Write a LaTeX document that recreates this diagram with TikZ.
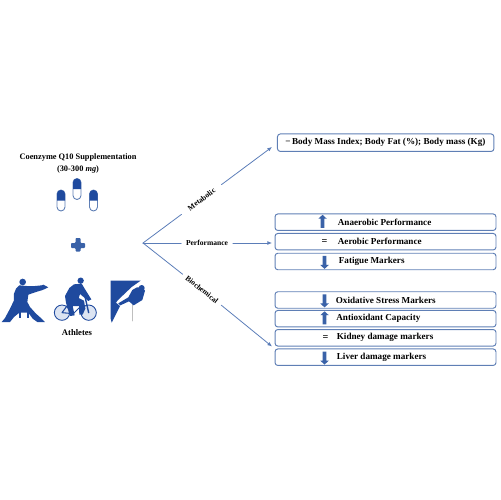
\documentclass[tikz,border=0pt]{standalone}
\usepackage{fontspec}
\setmainfont{Liberation Serif}
\usetikzlibrary{arrows.meta,shapes.arrows}

\definecolor{linkblue}{HTML}{5B7DB8}
\definecolor{boxblue}{HTML}{5F7FB5}
\definecolor{markblue}{HTML}{3A62A8}
\definecolor{iconblue}{HTML}{1F4A9E}
\definecolor{wheelfill}{HTML}{DCE4F2}

\begin{document}
\begin{tikzpicture}[
    x=0.02cm, y=-0.02cm,
    font=\fontsize{5.2}{6}\selectfont\bfseries,
    >=Latex,
    line cap=round,
    line join=round,
    resultbox/.style={draw=boxblue, line width=0.55pt, rounded corners=1.6pt, minimum width=4.42cm, minimum height=0.33cm, inner sep=0pt},
    boxtext/.style={anchor=west, inner sep=0pt},
    branch/.style={font=\fontsize{4.3}{5}\selectfont\bfseries, inner xsep=2.6pt, inner ysep=1pt},
    flow/.style={line width=0.45pt, draw=linkblue, arrows={-Latex[length=2.6pt,width=2.2pt]}},
    link/.style={line width=0.45pt, draw=linkblue},
    upmark/.style={single arrow, fill=markblue, draw=none, rotate=90, minimum height=0.26cm, minimum width=0.17cm, inner sep=0.3pt, single arrow head extend=0.6pt, single arrow tip angle=95},
    downmark/.style={upmark, rotate=180},
    eqmark/.style={inner sep=0pt, font=\fontsize{5.8}{6}\selectfont\bfseries},
    icon/.style={fill=iconblue, draw=none}
]
\useasboundingbox (0,0) rectangle (500,500);

% ------------------------
% Supplement side
% ------------------------
\node[align=center, inner sep=0pt, font=\fontsize{4.75}{6}\selectfont\bfseries] (supp) at (78,163.5) {Coenzyme Q10 Supplementation\\[1pt](30-300 \textit{mg})};

% capsules
\foreach \cx/\cy in {61/200.5, 77/189, 93.5/200.5} {
    \draw[draw=boxblue, line width=0.5pt, fill=white] (\cx-4,\cy-6.5) arc[start angle=180, end angle=360, radius=4] -- (\cx+4,\cy+6.5) arc[start angle=0, end angle=180, radius=4] -- cycle;
    \fill[iconblue] (\cx-4,\cy) -- (\cx-4,\cy-6.5) arc[start angle=180, end angle=360, radius=4] -- (\cx+4,\cy) -- cycle;
}

% plus sign
\fill[markblue, rounded corners=0.5pt] (75.5,238) -- (80.5,238) -- (80.5,243) -- (85,243) -- (85,248) -- (80.5,248) -- (80.5,251.5) -- (75.5,251.5) -- (75.5,248) -- (71,248) -- (71,243) -- (75.5,243) -- cycle;

% karate
\begin{scope}[shift={(0,272)}, x=0.00667cm, y=-0.00667cm]
    \fill[icon] (68,30) circle[radius=10];
    \fill[icon] (58,40) -- (80,42) -- (105,42) -- (125,40) -- (130,38) -- (145,46) -- (128,54) -- (108,60) -- (85,68) -- (82,90) -- (90,105) -- (108,125) -- (125,140) -- (135,150) -- (112,150) -- (98,140) -- (85,122) -- (58,122) -- (42,135) -- (30,150) -- (5,150) -- (15,138) -- (30,110) -- (42,85) -- (42,65) -- (48,50) -- cycle;
    \fill[icon] (58,118) rectangle (64,138);
    \fill[icon] (80,118) rectangle (86,138);
\end{scope}

% cyclist
\begin{scope}[shift={(50,272)}, x=0.00667cm, y=-0.00667cm]
    \foreach \wx in {36,116} {
        \draw[draw=iconblue, fill=wheelfill, line width=0.5pt] (\wx,122) circle[radius=23];
    }
    \draw[draw=iconblue, line width=0.6pt] (36,122) -- (60,90) -- (100,95) -- (70,125) -- cycle;
    \draw[draw=iconblue, line width=0.6pt] (60,90) -- (70,125);
    \draw[draw=iconblue, line width=0.8pt] (106,78) -- (116,122);
    \fill[icon] (92,26) circle[radius=9.5];
    \fill[icon] (72,37) -- (95,35) -- (104,50) -- (124,82) -- (115,87) -- (90,66) -- (86,78) -- (102,86) -- (106,110) -- (98,128) -- (88,128) -- (87,102) -- (68,102) -- (74,130) -- (60,132) -- (48,92) -- (45,72) -- (58,48) -- cycle;
\end{scope}

% climber
\begin{scope}[shift={(105,272)}, x=0.00667cm, y=-0.00667cm]
    \draw[draw=gray!50, line width=0.8pt] (82,85) -- (82,146);
    \fill[icon] (17,26) -- (107,26) -- (80,45) -- (38,85) -- (33,92) -- (45,102) -- (35,122) -- (20,152) -- (17,140) -- cycle;
    \fill[icon] (40,94) -- (70,76) -- (82,54) -- (96,46) -- (112,46) -- (120,56) -- (112,84) -- (86,100) -- (72,88) -- (46,100) -- cycle;
    \fill[icon] (110,48) circle[radius=9];
\end{scope}

\node[inner sep=0pt, font=\fontsize{4.9}{6}\selectfont\bfseries] (athletes) at (77,333) {Athletes};

% ------------------------
% Result boxes
% ------------------------
\node[resultbox, minimum width=4.33cm, minimum height=0.35cm] (bmi) at (385.7,142.7) {};
\node[boxtext] (bmitxt) at ([xshift=0.16cm]bmi.west) {\textminus\,Body Mass Index; Body Fat (\%); Body mass (Kg)};

\node[resultbox] (anaer) at (385.5,222.2) {};
\node[resultbox] (aer) at (385.5,241.7) {};
\node[resultbox] (fat) at (385.5,261.5) {};
\node[resultbox] (oxi) at (385.5,300) {};
\node[resultbox] (anti) at (385.5,318.7) {};
\node[resultbox] (kid) at (385.5,337.8) {};
\node[resultbox] (liv) at (385.5,357.2) {};

\node[boxtext] (anaertxt) at ([xshift=1.26cm]anaer.west) {Anaerobic Performance};
\node[boxtext] (aertxt) at ([xshift=1.26cm]aer.west) {Aerobic Performance};
\node[boxtext] (fattxt) at ([xshift=1.28cm]fat.west) {Fatigue Markers};
\node[boxtext] (oxitxt) at ([xshift=1.22cm]oxi.west) {Oxidative Stress Markers};
\node[boxtext] (antitxt) at ([xshift=1.23cm]anti.west) {Antioxidant Capacity};
\node[boxtext] (kidtxt) at ([xshift=1.24cm]kid.west) {Kidney damage markers};
\node[boxtext] (livtxt) at ([xshift=1.24cm]liv.west) {Liver damage markers};

% up, down and equal marks
\node[upmark] (anaermark) at ([xshift=0.96cm]anaer.west) {};
\node[eqmark] (aermark) at ([xshift=1cm]aer.west) {=};
\node[downmark] (fatmark) at ([xshift=1cm]fat.west) {};
\node[downmark] (oximark) at ([xshift=1cm]oxi.west) {};
\node[upmark] (antimark) at ([xshift=1cm]anti.west) {};
\node[eqmark] (kidmark) at ([xshift=1.02cm]kid.west) {=};
\node[downmark] (livmark) at ([xshift=1cm]liv.west) {};

% ------------------------
% Branches
% ------------------------
\coordinate (hub) at (143,243);
\coordinate (tipmet) at (272,147);
\coordinate (tipperf) at (272,243);
\coordinate (tipbio) at (272,346.5);

\node[branch, rotate=37, inner xsep=4.8pt] (met) at (201.5,199.5) {Metabolic};
\node[branch] (perf) at (207,243) {Performance};
\node[branch, rotate=-38.5] (bio) at (202,289.5) {Biochemical};

\draw[link] (hub) -- (met);
\draw[flow] (met) -- (tipmet);
\draw[link] (hub) -- (perf);
\draw[flow] (perf) -- (tipperf);
\draw[link] (hub) -- (bio);
\draw[flow] (bio) -- (tipbio);

\end{tikzpicture}
\end{document}
